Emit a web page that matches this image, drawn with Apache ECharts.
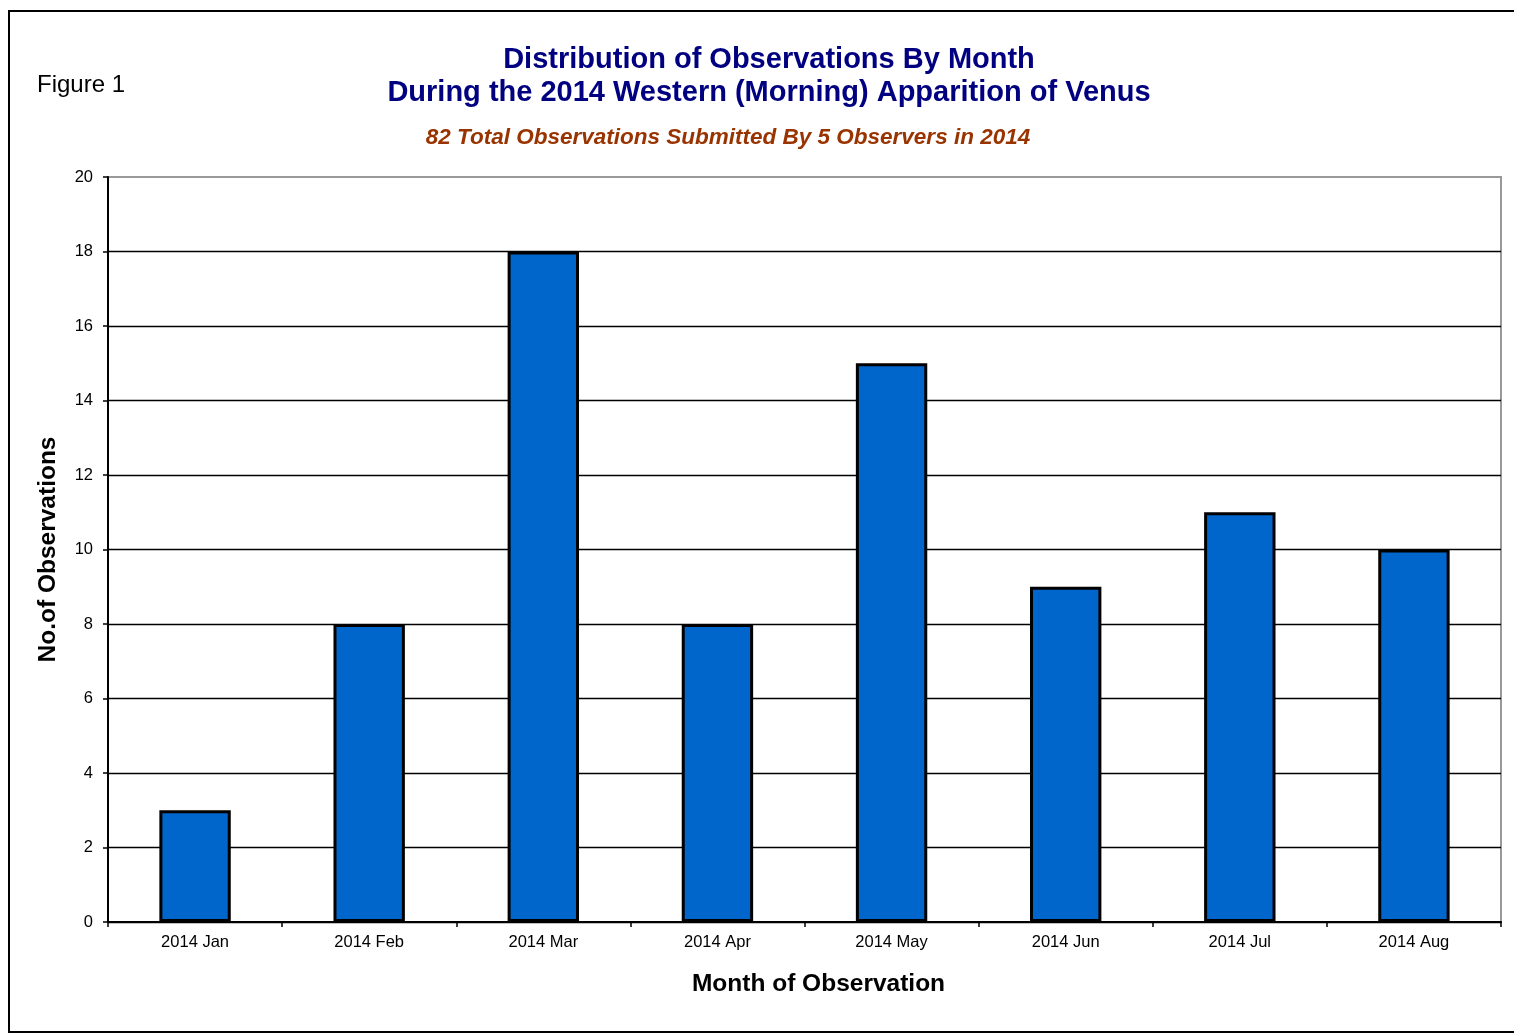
<!DOCTYPE html>
<html lang="en">
<head>
    <meta charset="UTF-8">
    <title>Venus 2014 observations</title>
    <style>
        html, body { margin: 0; padding: 0; background: #fff; }
        #chart { width: 1514px; height: 1034px; }
    </style>
</head>
<body>
    <div id="chart"></div>
    <script src="https://cdn.jsdelivr.net/npm/echarts@6/dist/echarts.min.js"></script>
    <script>
        const months = ['2014 Jan', '2014 Feb', '2014 Mar', '2014 Apr', '2014 May', '2014 Jun', '2014 Jul', '2014 Aug']
        const counts = [3, 8, 18, 8, 15, 9, 11, 10]

        const font = 'Liberation Sans, Arial, sans-serif'
        const myChart = echarts.init(document.getElementById('chart'))

        const option = {
            backgroundColor: '#fff',
            animation: false,
            grid: {
                left: 108,
                right: 13,
                top: 177,
                bottom: 112,
                show: true,
                borderColor: '#999',
                borderWidth: 2
            },
            graphic: [
                // outer frame
                { type: 'rect', shape: { x: 9, y: 11, width: 1520, height: 1021 }, style: { fill: 'none', stroke: '#000', lineWidth: 2 }, silent: true },
                { type: 'text', x: 37, y: 85, style: { text: 'Figure 1', font: '24px ' + font, fill: '#000', verticalAlign: 'middle' } },
                { type: 'text', x: 769, y: 60, style: { text: 'Distribution of Observations By Month', font: 'bold 29px ' + font, fill: '#000080', align: 'center', verticalAlign: 'middle' } },
                { type: 'text', x: 769, y: 93, style: { text: 'During the 2014 Western (Morning) Apparition of Venus', font: 'bold 29px ' + font, fill: '#000080', align: 'center', verticalAlign: 'middle' } },
                { type: 'text', x: 728, y: 138, style: { text: '82 Total Observations Submitted By 5 Observers in 2014', font: 'italic bold 22.5px ' + font, fill: '#993300', align: 'center', verticalAlign: 'middle' } }
            ],
            xAxis: {
                type: 'category',
                data: months,
                name: 'Month of Observation',
                nameLocation: 'middle',
                nameGap: 50,
                nameTextStyle: { fontFamily: font, fontWeight: 'bold', fontSize: 24.5, color: '#000', padding: [0, 0, 0, 28] },
                axisLine: { lineStyle: { color: '#000', width: 2 } },
                axisTick: { show: true, length: 5, lineStyle: { color: '#000', width: 1.5 } },
                axisLabel: { fontFamily: font, fontSize: 16.5, color: '#000', margin: 12 },
                splitLine: { show: false }
            },
            yAxis: {
                type: 'value',
                min: 0,
                max: 20,
                interval: 2,
                name: 'No.of Observations',
                nameLocation: 'middle',
                nameGap: 47,
                nameTextStyle: { fontFamily: font, fontWeight: 'bold', fontSize: 24.5, color: '#000' },
                axisLine: { show: true, lineStyle: { color: '#000', width: 2 } },
                axisTick: { show: true, length: 5, lineStyle: { color: '#000', width: 1.5 } },
                axisLabel: { fontFamily: font, fontSize: 16.5, color: '#000', margin: 15 },
                splitLine: { show: true, showMaxLine: false, lineStyle: { color: '#000', width: 1.4 } }
            },
            series: [{
                type: 'bar',
                data: counts,
                barWidth: '41%',
                itemStyle: {
                    color: '#0066CC',
                    borderColor: '#000',
                    borderWidth: 3
                }
            }]
        }

        myChart.setOption(option)
    </script>
</body>
</html>
